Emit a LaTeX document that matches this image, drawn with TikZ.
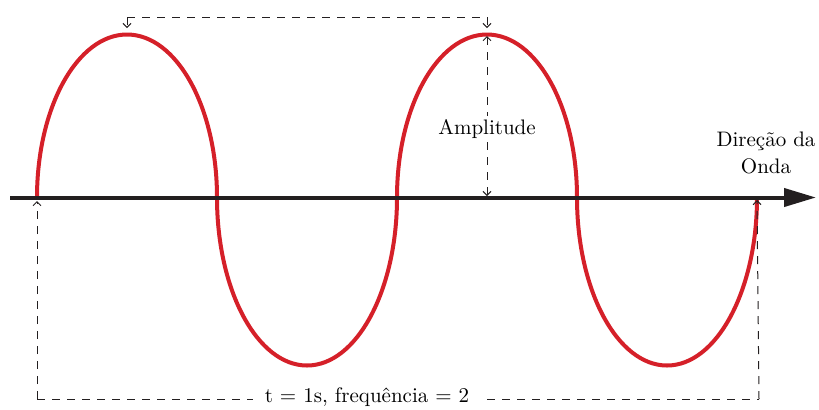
\documentclass[tikz,border=0pt]{standalone}
\usepackage{tikz}
\usetikzlibrary{arrows.meta}
\definecolor{wavered}{RGB}{213,32,41}
\definecolor{axisgray}{RGB}{35,31,32}

\begin{document}
\begin{tikzpicture}[x=0.5pt,y=-0.5pt,
  wave/.style={line width=2pt, wavered, line join=round},
  axisline/.style={line width=2pt, axisgray, -{Triangle[length=16pt,width=9pt]}},
  dim/.style={line width=0.5pt, axisgray, dash pattern=on 4pt off 3.5pt},
  dimtip/.style={{Straight Barb[length=2pt,width=4pt]}-{Straight Barb[length=2pt,width=4pt]}},
  lbl/.style={font=\fontsize{10.5}{13.5}\selectfont, text=black}]
  \useasboundingbox (0,0) rectangle (819,409);

  % points on the wave
  \coordinate (start) at (37,197.5);
  \coordinate (peak1) at (127,36);
  \coordinate (peak2) at (487,36);
  \coordinate (ax2)   at (487,196);
  \coordinate (stop)  at (757,200);

  % wave: half ellipses (y axis points down here)
  \draw[wave] (37,197.5) arc[start angle=180, end angle=360, x radius=90, y radius=163]
    arc[start angle=180, end angle=0, x radius=90, y radius=168]
    arc[start angle=180, end angle=360, x radius=90, y radius=163]
    arc[start angle=180, end angle=0, x radius=90, y radius=168];

  % axis
  \coordinate (axL) at (10,197.5);
  \coordinate (axR) at (816,197.5);
  \draw[axisline] (axL) -- (axR);
  \node[lbl, align=center] (dir) at (766,153) {Direção da\\Onda};

  % peak to peak
  \draw[dim, -{Straight Barb[length=2pt,width=4pt]}] (127,17) -- (peak1 |- 0,28);
  \draw[dim] (127,17) -- (487,17);
  \draw[dim, -{Straight Barb[length=2pt,width=4pt]}] (487,17) -- (peak2 |- 0,28);

  % amplitude
  \draw[dim, dimtip] (peak2) -- (ax2);
  \node[lbl, fill=white, inner sep=1.5pt] (amp) at (487,129) {Amplitude};

  % period
  \draw[dim, -{Straight Barb[length=2pt,width=4pt]}] (37,399) -- (start |- 0,201);
  \draw[dim] (37,399) -- (759,399);
  \draw[dim, -{Straight Barb[length=2pt,width=4pt]}] (759,399) -- (stop);
  \node[lbl, fill=white, inner xsep=6pt, inner ysep=1pt] (per) at (367,397) {t = 1s, frequência = 2};
\end{tikzpicture}
\end{document}
